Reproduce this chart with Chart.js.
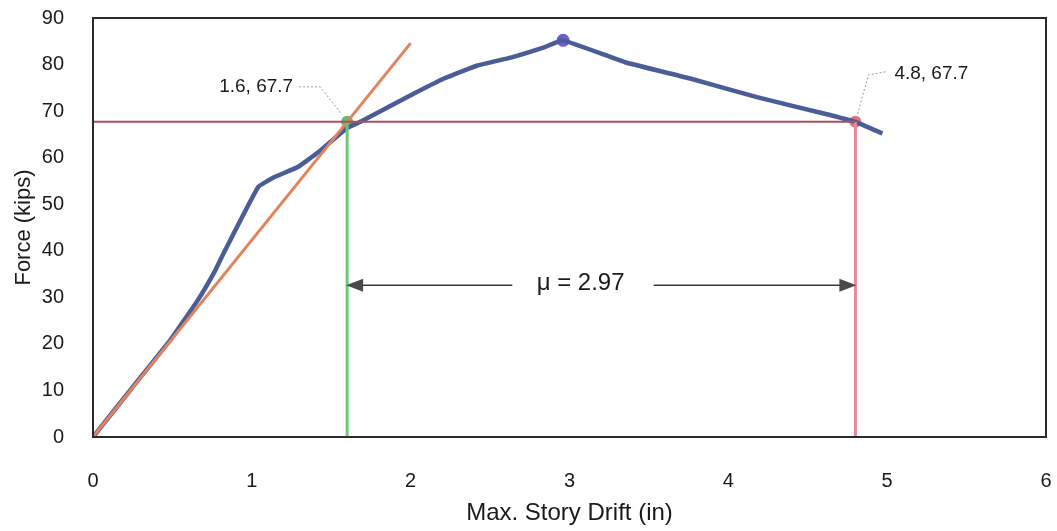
<!DOCTYPE html>
<html>
<head>
<meta charset="utf-8">
<script src="https://cdn.jsdelivr.net/npm/chart.js@4.4.1/dist/chart.umd.min.js"></script>
<style>
html,body{margin:0;padding:0;background:#fff;}
#wrap{width:1057px;height:531px;position:relative;}
</style>
</head>
<body>
<div id="wrap"><canvas id="c" width="1057" height="531"></canvas></div>
<script>
// ---- data ----
const driftCurve = [0, 0.24, 0.49, 0.66, 0.77, 0.83, 1.04, 1.14, 1.29, 1.42, 1.6, 1.69, 2.0, 2.21, 2.42, 2.63, 2.84, 2.96, 3.35, 3.76, 4.18, 4.6, 4.8, 4.97];
const forceCurve = [0, 10.3, 21, 29.4, 35.8, 40, 53.7, 55.8, 58, 61.2, 66.4, 67.8, 73.4, 77, 79.8, 81.5, 83.7, 85.2, 80.5, 77, 73, 69.5, 67.7, 65.2];
const tangentDrift = [0, 2.0];
const tangentForce = [0, 84.6];
const yieldPoint = [1.6, 67.7];
const ultimatePoint = [4.8, 67.7];
const peakPoint = [2.96, 85.2];
const yieldLabel = "1.6, 67.7";
const ultimateLabel = "4.8, 67.7";
const ductilityLabel = "\u03bc = 2.97";
const arrowForce = 32.6;
const xTicks = [0, 1, 2, 3, 4, 5, 6];
const yTicks = [0, 10, 20, 30, 40, 50, 60, 70, 80, 90];

const toXY = (xs, ys) => xs.map((x, i) => ({x: x, y: ys[i]}));

const FONT = "'Liberation Sans', Arial, sans-serif";

const annotPlugin = {
  id: 'annot',
  afterDatasetsDraw(chart) {
    const {ctx, scales: {x, y}, chartArea: a} = chart;
    ctx.save();
    // arrow
    const ay = y.getPixelForValue(arrowForce);
    const x1 = x.getPixelForValue(yieldPoint[0]) - 1;
    const x2 = x.getPixelForValue(ultimatePoint[0]) + 1;
    const gapL = x.getPixelForValue(2.64), gapR = x.getPixelForValue(3.53), tx = x.getPixelForValue(3.07);
    ctx.strokeStyle = '#3a3a3a';
    ctx.fillStyle = '#4a4a4a';
    ctx.lineWidth = 1.6;
    ctx.beginPath();
    ctx.moveTo(x1 + 14, ay); ctx.lineTo(gapL, ay);
    ctx.moveTo(gapR, ay); ctx.lineTo(x2 - 14, ay);
    ctx.stroke();
    ctx.beginPath();
    ctx.moveTo(x1, ay); ctx.lineTo(x1 + 17, ay - 6.5); ctx.lineTo(x1 + 17, ay + 6.5); ctx.closePath(); ctx.fill();
    ctx.beginPath();
    ctx.moveTo(x2, ay); ctx.lineTo(x2 - 17, ay - 6.5); ctx.lineTo(x2 - 17, ay + 6.5); ctx.closePath(); ctx.fill();
    ctx.fillStyle = '#1a1a1a';
    ctx.font = "24px " + FONT;
    ctx.textAlign = 'center';
    ctx.textBaseline = 'middle';
    ctx.fillText(ductilityLabel, tx, ay - 2);

    // leader labels
    ctx.font = "19px " + FONT;
    const px1 = x.getPixelForValue(yieldPoint[0]), py1 = y.getPixelForValue(yieldPoint[1]);
    ctx.textAlign = 'right';
    ctx.fillText(yieldLabel, px1 - 54, py1 - 35);
    const px2 = x.getPixelForValue(ultimatePoint[0]), py2 = y.getPixelForValue(ultimatePoint[1]);
    ctx.textAlign = 'left';
    ctx.fillText(ultimateLabel, px2 + 39, py2 - 48);
    ctx.strokeStyle = '#9a9a9a';
    ctx.lineWidth = 1;
    ctx.setLineDash([2, 2]);
    ctx.beginPath();
    ctx.moveTo(px1 - 48, py1 - 35); ctx.lineTo(px1 - 27, py1 - 35); ctx.lineTo(px1 - 5, py1 - 7);
    ctx.moveTo(px2 + 30, py2 - 50); ctx.lineTo(px2 + 13, py2 - 47); ctx.lineTo(px2 + 2, py2 - 7);
    ctx.stroke();
    ctx.setLineDash([]);
    // border
    ctx.strokeStyle = '#2a2a2a';
    ctx.lineWidth = 2;
    ctx.strokeRect(a.left, a.top, a.right - a.left, a.bottom - a.top);
    ctx.restore();
  }
};

const zeroPad = s => { s.paddingTop = 0; s.paddingBottom = 0; s.paddingLeft = 0; s.paddingRight = 0; };

new Chart(document.getElementById('c'), {
  type: 'scatter',
  data: {
    datasets: [
      {data: [{x: 0, y: yieldPoint[1]}, {x: ultimatePoint[0], y: ultimatePoint[1]}], showLine: true, borderColor: '#a94f5e', borderWidth: 2, pointRadius: 0},
      {data: [{x: yieldPoint[0], y: 0}, {x: yieldPoint[0], y: yieldPoint[1]}], showLine: true, borderColor: '#6cc67c', borderWidth: 3, pointRadius: 0},
      {data: [{x: ultimatePoint[0], y: 0}, {x: ultimatePoint[0], y: ultimatePoint[1]}], showLine: true, borderColor: '#e28a96', borderWidth: 3, pointRadius: 0},
      {data: toXY(tangentDrift, tangentForce), showLine: true, borderColor: '#e3835e', borderWidth: 3, pointRadius: 0},
      {data: toXY(driftCurve, forceCurve), showLine: true, borderColor: '#4b5d96', borderWidth: 4.5, pointRadius: 0, tension: 0.1},
      {data: [{x: peakPoint[0], y: peakPoint[1]}], pointRadius: 6.5, pointBackgroundColor: '#6a5fcc', pointBorderWidth: 0},
      {data: [{x: yieldPoint[0], y: yieldPoint[1]}], pointRadius: 6, pointBackgroundColor: '#5cbd6c', pointBorderWidth: 0},
      {data: [{x: ultimatePoint[0], y: ultimatePoint[1]}], pointRadius: 6, pointBackgroundColor: '#e27478', pointBorderWidth: 0}
    ]
  },
  options: {
    responsive: false,
    animation: false,
    events: [],
    layout: {padding: {left: 0, right: 11, top: 18, bottom: 0}},
    plugins: {legend: {display: false}, tooltip: {enabled: false}},
    scales: {
      x: {
        type: 'linear', min: 0, max: 6,
        afterBuildTicks: s => { s.ticks = xTicks.map(v => ({value: v})); },
        afterFit: s => { s.height = 94; zeroPad(s); },
        grid: {display: false},
        border: {display: false},
        ticks: {padding: 24, color: '#1a1a1a', font: {family: FONT, size: 20}},
        title: {display: true, text: 'Max. Story Drift (in)', color: '#1a1a1a', font: {family: FONT, size: 24}, padding: {top: 0, bottom: 3}}
      },
      y: {
        type: 'linear', min: 0, max: 90,
        afterBuildTicks: s => { s.ticks = yTicks.map(v => ({value: v})); },
        afterFit: s => { s.width = 93; zeroPad(s); },
        grid: {display: false},
        border: {display: false},
        ticks: {padding: 21, color: '#1a1a1a', font: {family: FONT, size: 20}},
        title: {display: true, text: 'Force (kips)', color: '#1a1a1a', font: {family: FONT, size: 22}, padding: {top: 11, bottom: 0}}
      }
    }
  },
  plugins: [annotPlugin]
});
</script>
</body>
</html>
